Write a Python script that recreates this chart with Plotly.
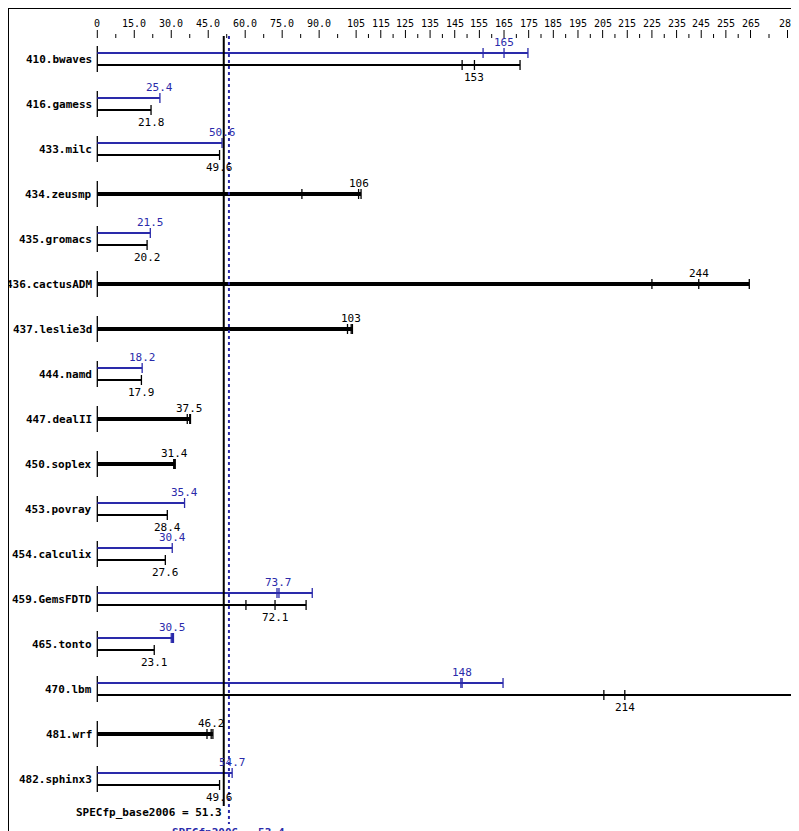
import plotly.graph_objects as go

names = ["410.bwaves","416.gamess","433.milc","434.zeusmp","435.gromacs","436.cactusADM",
         "437.leslie3d","444.namd","447.dealII","450.soplex","453.povray","454.calculix",
         "459.GemsFDTD","465.tonto","470.lbm","481.wrf","482.sphinx3"]
base_score = [153,21.8,49.6,106,20.2,244,103,17.9,37.5,31.4,28.4,27.6,72.1,23.1,214,46.2,49.6]
base_runs = [[148,153,171.5],[21.8],[49.6],[83,106,107],[20.2],[225,244,264.5],[101.5,103,103.5],
             [17.9],[36.5,37.5,37.8],[31,31.4,31.6],[28.4],[27.6],[60.3,72.1,84.7],[23.1],
             [205.5,214,283],[44.5,46.2,46.9],[49.6]]
peak_score = [165,25.4,50.6,None,21.5,None,None,18.2,None,None,35.4,30.4,73.7,30.5,148,None,54.7]
peak_runs = [[156.5,165,174.7],[25.4],[50.6],None,[21.5],None,None,[18.2],None,None,[35.4],[30.4],
             [72.9,73.7,87.2],[30.0,30.5,30.9],[147.5,148,164.6],None,[54.7]]
tick_labels = [0,15,30,45,60,75,90,105,115,125,135,145,155,165,175,185,195,205,215,225,235,245,255,265,285]
tick_pos =    [0,15,30,45,60,75,90,105,115,125,135,145,155,165,175,185,195,205,215,225,235,245,255,265,280]
SPEC_base = 51.3
SPEC_peak = 53.4

SHIFT = 8.0   # page body margin
PX = 2.465
X0 = 97.3 - SHIFT
ROW = 45.0
Y0 = 43.0
def py(p):  # reference pixel y -> data y
    return (p - Y0) / ROW
def dy(p):
    return p / ROW

BLUE = "#2a2aaa"
fig = go.Figure()
ann = []
mono = "DejaVu Sans Mono"

def add_line(xs, ys, color, w, dash=None):
    fig.add_trace(go.Scatter(x=xs, y=ys, mode="lines", line=dict(color=color, width=w, dash=dash),
                             hoverinfo="skip", showlegend=False))

def bar(i, runs, score, color, off, width, label_pos):
    yc = i + dy(off)
    add_line([0, max(runs)], [yc, yc], color, width)
    h = dy(5)
    for r in runs:
        add_line([r, r], [yc - h, yc + h], color, 1.3)
    ly = yc - dy(11) if label_pos == "above" else yc + dy(12)
    ann.append(dict(x=score, y=ly, text=f"{score:g}", showarrow=False,
                    font=dict(family=mono, size=11, color=color)))

for i, n in enumerate(names):
    add_line([0, 0], [i - dy(13), i + dy(13)], "black", 1.3)
    ann.append(dict(x=-1.5, y=i, text=f"<b>{n}</b>", xanchor="right", showarrow=False,
                    font=dict(family=mono, size=11, color="black")))
    if peak_runs[i] is None:
        bar(i, base_runs[i], base_score[i], "black", 0, 4, "above")
    else:
        bar(i, peak_runs[i], peak_score[i], BLUE, -6, 2, "above")
        bar(i, base_runs[i], base_score[i], "black", 6, 2, "below")

# top scale
for k, (t, lab) in enumerate(zip(tick_pos, tick_labels)):
    add_line([t, t], [py(14), py(22)], "black", 1)
    ann.append(dict(x=t, y=py(7), text=(f"{lab:.1f}" if 0 < lab < 100 else str(lab)), showarrow=False,
                    font=dict(family=mono, size=10, color="black")))
    if k + 1 < len(tick_pos):
        m = (t + tick_pos[k + 1]) / 2
        add_line([m, m], [py(18), py(22)], "black", 1)

# summary lines
add_line([SPEC_base, SPEC_base], [py(20), py(790)], "black", 2)
add_line([SPEC_peak, SPEC_peak], [py(20), py(808)], BLUE, 2, "dot")
ann.append(dict(x=SPEC_base, y=py(796), text=f"<b>SPECfp_base2006 = {SPEC_base}</b>", xanchor="right",
                showarrow=False, font=dict(family=mono, size=11, color="black")))
ann.append(dict(x=SPEC_peak, y=py(816), text=f"<b>SPECfp2006 = {SPEC_peak}</b>", xanchor="center",
                showarrow=False, font=dict(family=mono, size=11, color=BLUE)))

fig.update_layout(
    width=799, height=831, margin=dict(l=0, r=0, t=0, b=0),
    plot_bgcolor="white", paper_bgcolor="white",
    xaxis=dict(range=[-X0 / PX, (799 - X0) / PX], visible=False, fixedrange=True),
    yaxis=dict(range=[py(831 - SHIFT), py(-SHIFT)], visible=False, fixedrange=True),
    annotations=ann,
    shapes=[dict(type="rect", xref="paper", yref="paper", x0=0, x1=1, y0=0, y1=1,
                 line=dict(color="black", width=2))],
)
fig.write_html("out.html")
